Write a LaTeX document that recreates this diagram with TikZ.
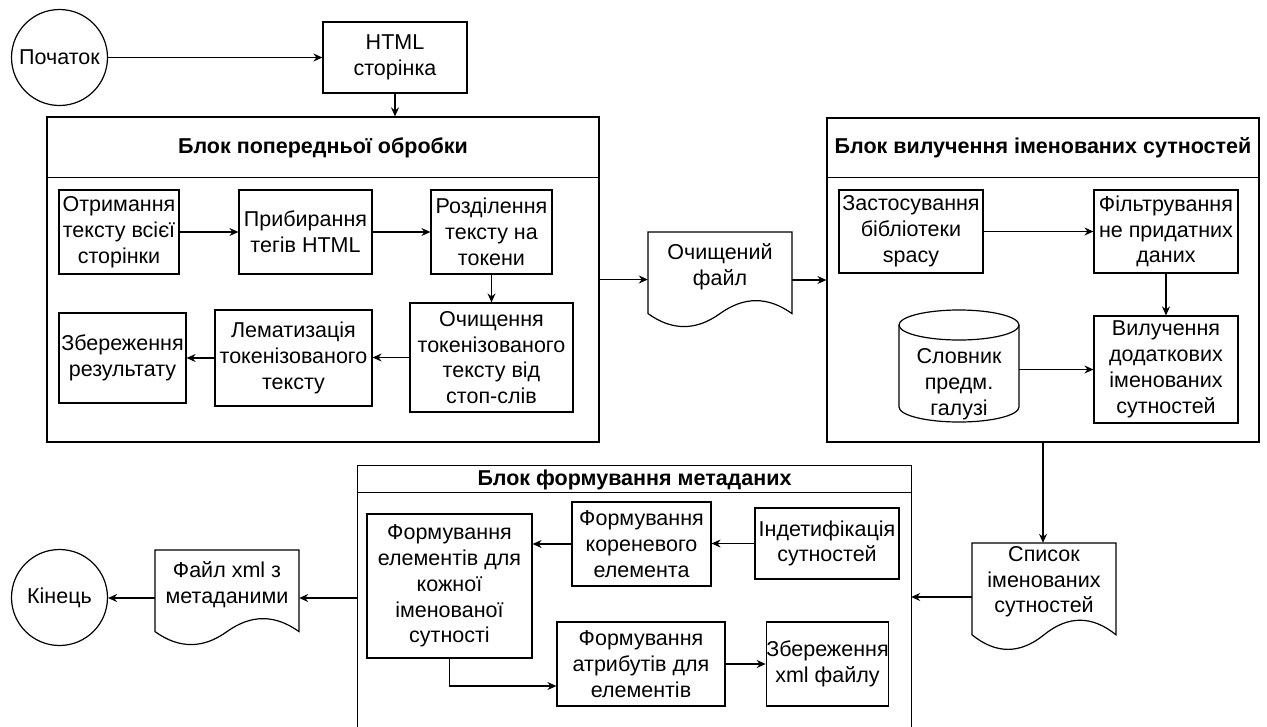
\documentclass[tikz,border=0pt]{standalone}
\usepackage{fontspec}
\setmainfont{Liberation Sans}
\usetikzlibrary{arrows.meta,calc}
\newcommand{\docnode}[6]{% name, x0, y0, w, h, text
  \node[draw=none, minimum width=#4pt, minimum height=#5pt] (#1) at ({#2+#4/2},{#3+#5/2}) {};
  \draw[ln, fill=white] (#2,#3) -- ({#2+#4},#3) -- ({#2+#4},{#3+0.85*#5})
    .. controls ({#2+5*#4/6},{#3+0.67*#5}) and ({#2+2*#4/3},{#3+0.67*#5}) .. ({#2+#4/2},{#3+0.85*#5})
    .. controls ({#2+#4/3},{#3+1.03*#5}) and ({#2+#4/6},{#3+1.03*#5}) .. (#2,{#3+0.85*#5}) -- cycle;
  \node (#1-t) at ({#2+#4/2},{#3+0.36*#5}) {#6};
}
\begin{document}
\begin{tikzpicture}[x=1pt,y=-1pt,
  every node/.style={font=\fontsize{21.5}{25.8}\selectfont, text=black, inner sep=0pt, align=center},
  ln/.style={line width=1.2pt, draw=black},
  box/.style={ln, fill=white, rectangle},
  ttl/.style={font=\fontsize{21.5}{25.8}\selectfont\bfseries},
  arr/.style={ln, -{Stealth[length=9pt,width=8pt,inset=3pt]}}
]
\useasboundingbox[fill=white] (0,0) rectangle (1267,726);

% top
\node[ln, circle, minimum size=96pt] (beg) at (59.5,57.5) {Початок};
\node[box, minimum width=144pt, minimum height=71pt] (html) at (395,57.5) {HTML\\сторінка};

% block 1
\node[box, minimum width=552pt, minimum height=325pt] (b1) at (323,279.5) {};
\draw[ln] ($(b1.north west)+(0,61)$) -- ($(b1.north east)+(0,61)$);
\node[ttl] (b1t) at (323,147.5) {Блок попередньої обробки};
\node[box, minimum width=120pt, minimum height=84pt] (r1) at (119,232) {Отримання\\тексту всієї\\сторінки};
\node[box, minimum width=133pt, minimum height=84pt] (r2) at (305.5,232) {Прибирання\\тегів HTML};
\node[box, minimum width=121pt, minimum height=84pt] (r3) at (491.5,232) {Розділення\\тексту на\\токени};
\node[box, minimum width=163pt, minimum height=109pt] (r4) at (491.5,357.5) {Очищення\\токенізованого\\тексту від\\стоп-слів};
\node[box, minimum width=157pt, minimum height=96pt] (r5) at (293.5,358) {Лематизація\\токенізованого\\тексту};
\node[box, minimum width=127pt, minimum height=90pt] (r6) at (122.5,358) {Збереження\\результату};

% document 1
\docnode{doc1}{648}{232}{144}{96}{Очищений\\файл}

% block 2
\node[box, minimum width=432pt, minimum height=324pt] (b2) at (1043,280) {};
\draw[ln] ($(b2.north west)+(0,60)$) -- ($(b2.north east)+(0,60)$);
\node[ttl] (b2t) at (1043,148) {Блок вилучення іменованих сутностей};
\node[box, minimum width=144pt, minimum height=83pt] (s1) at (911,231.5) {Застосування\\бібліотеки\\spacy};
\node[box, minimum width=144pt, minimum height=83pt] (s2) at (1166,231.5) {Фільтрування\\не придатних\\даних};
\node[box, minimum width=144pt, minimum height=107pt] (s3) at (1166,369.5) {Вилучення\\додаткових\\іменованих\\сутностей};
\node[draw=none, minimum width=120pt, minimum height=112pt] (dict) at (959,366) {};
\draw[ln, fill=white] (899,325) -- (899,407) arc[start angle=180, end angle=0, x radius=60, y radius=15] -- (1019,325);
\draw[ln, fill=white] (959,325) ellipse [x radius=60, y radius=15];
\node (dict-t) at (959,384) {Словник\\предм.\\галузі};

% document 2
\docnode{doc2}{972}{543}{144}{108}{Список\\іменованих\\сутностей}

% block 3
\node[draw=none, minimum width=553pt, minimum height=261pt] (b3) at (634.5,596.5) {};
\draw[ln] ([yshift=-2pt]b3.south west) -- (b3.north west) -- (b3.north east) -- ([yshift=-2pt]b3.south east);
\draw[ln] ($(b3.north west)+(0,27)$) -- ($(b3.north east)+(0,27)$);
\node[ttl] (b3t) at (634.5,480) {Блок формування метаданих};
\node[box, minimum width=144pt, minimum height=71pt] (ind) at (827,543.5) {Індетифікація\\сутностей};
\node[box, minimum width=139pt, minimum height=84pt] (kor) at (641.5,544) {Формування\\кореневого\\елемента};
\node[box, minimum width=165pt, minimum height=144pt] (elem) at (449.5,586) {Формування\\елементів для\\кожної\\іменованої\\сутності};
\node[box, minimum width=168pt, minimum height=84pt] (atr) at (641,664) {Формування\\атрибутів для\\елементів};
\node[box, minimum width=119pt, minimum height=84pt] (zb) at (827.5,664) {Збереження\\xml файлу};

% document 3 and end
\docnode{doc3}{155}{550}{144}{96}{Файл xml з\\метаданими}
\node[ln, circle, minimum size=96pt] (fin) at (59.5,597.5) {Кінець};

% connectors
\draw[arr] (beg.east) -- (html.west);
\draw[arr] (html.south) -- (html.south |- b1.north);
\draw[arr] (r1.east) -- (r2.west);
\draw[arr] (r2.east) -- (r3.west);
\draw[arr] (r3.south) -- (r4.north);
\draw[arr] (r4.west) -- (r4.west -| r5.east);
\draw[arr] (r5.west) -- (r5.west -| r6.east);
\draw[arr] (b1.east) -- (b1.east -| doc1.west);
\draw[arr] (doc1.east) -- (doc1.east -| b2.west);
\draw[arr] (s1.east) -- (s2.west);
\draw[arr] (s2.south) -- (s3.north);
\draw[arr] (s3.west -| dict.east) -- (s3.west);
\draw[arr] (b2.south) -- (b2.south |- doc2.north);
\draw[arr] (doc2.west) -- (doc2.west -| b3.east);
\draw[arr] (doc3.east -| b3.west) -- (doc3.east);
\draw[arr] (doc3.west) -- (doc3.west -| fin.east);
\draw[arr] (ind.west) -- (ind.west -| kor.east);
\draw[arr] (kor.west) -- (kor.west -| elem.east);
\draw[arr] (elem.south) |- ([yshift=-22pt]atr.west);
\draw[arr] (atr.east) -- (zb.west);
\end{tikzpicture}
\end{document}
